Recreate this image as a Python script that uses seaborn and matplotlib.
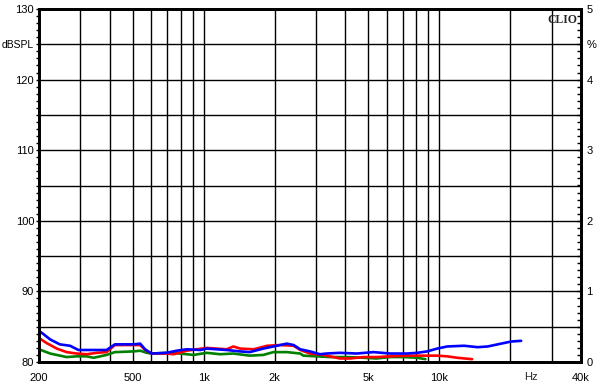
import numpy as np
import pandas as pd
import matplotlib
matplotlib.use("Agg")
import matplotlib.pyplot as plt
import matplotlib.ticker as mticker
import seaborn as sns

# ---- data ----
blue_freq = [200, 208, 223, 245, 271, 294, 387, 420, 503, 538, 564, 601, 696, 769, 848, 968,
             1030, 1253, 1429, 1570, 1791, 1978, 2255, 2410, 2571, 2828, 3117, 3326, 3788,
             4460, 5257, 6198, 7308, 8061, 8890, 9806, 10815, 12750, 14570, 16070, 17720,
             20200, 22280]
blue_db = [84.4, 84.0, 83.2, 82.5, 82.3, 81.7, 81.7, 82.5, 82.5, 82.6, 81.8, 81.2, 81.3, 81.6,
           81.8, 81.7, 81.9, 81.7, 81.5, 81.4, 81.9, 82.2, 82.6, 82.4, 81.8, 81.5, 81.1, 81.2,
           81.3, 81.2, 81.4, 81.2, 81.2, 81.3, 81.5, 81.9, 82.2, 82.3, 82.1, 82.2, 82.5, 82.9,
           83.0]

red_freq = [200, 215, 238, 262, 289, 319, 352, 387, 420, 503, 538, 564, 601, 696, 744, 848,
            1030, 1253, 1336, 1429, 1630, 1861, 2121, 2410, 2571, 2828, 3223, 3788, 4180, 4760,
            5420, 6198, 7308, 8600, 9806, 10815, 11920, 13800]
red_db = [83.4, 82.7, 81.9, 81.4, 81.2, 81.1, 81.3, 81.4, 82.4, 82.4, 82.4, 81.7, 81.2, 81.2,
          81.1, 81.6, 82.0, 81.8, 82.2, 81.9, 81.8, 82.3, 82.4, 82.3, 81.7, 81.2, 81.0, 80.5,
          80.5, 80.7, 80.7, 80.8, 80.9, 80.9, 80.9, 80.8, 80.6, 80.4]

green_freq = [200, 223, 262, 289, 319, 341, 387, 420, 503, 538, 573, 601, 696, 793, 906, 1030,
              1175, 1336, 1570, 1791, 1978, 2255, 2571, 2650, 3020, 3440, 4045, 4760, 5420,
              6198, 7080, 8061, 8740]
green_db = [81.8, 81.2, 80.7, 80.8, 80.8, 80.6, 81.0, 81.4, 81.5, 81.6, 81.3, 81.2, 81.3, 81.2,
            81.0, 81.3, 81.1, 81.2, 80.9, 81.0, 81.4, 81.4, 81.2, 80.9, 80.8, 80.7, 80.7, 80.6,
            80.5, 80.7, 80.7, 80.6, 80.4]

x_label_ticks = [200, 500, 1000, 2000, 5000, 10000, 40000]
x_label_text = ["200", "500", "1k", "2k", "5k", "10k", "40k"]
x_grid = [300, 400, 500, 600, 700, 800, 900, 1000, 2000, 3000, 4000, 5000, 6000, 7000,
          8000, 9000, 10000, 20000, 30000]
y_ticks = [80, 85, 90, 95, 100, 105, 110, 115, 120, 125, 130]
y_labels = ["80", "", "90", "", "100", "", "110", "", "120", "dBSPL", "130"]
r_ticks = [0, 0.5, 1, 1.5, 2, 2.5, 3, 3.5, 4, 4.5, 5]
r_labels = ["0", "", "1", "", "2", "", "3", "", "4", "%", "5"]

df = pd.concat([
    pd.DataFrame({"freq": green_freq, "db": green_db, "series": "green"}),
    pd.DataFrame({"freq": red_freq, "db": red_db, "series": "red"}),
    pd.DataFrame({"freq": blue_freq, "db": blue_db, "series": "blue"}),
], ignore_index=True)

sns.set_style("white")
plt.rcParams["font.family"] = ["Liberation Sans", "DejaVu Sans"]

fig = plt.figure(figsize=(5.98, 3.86), dpi=100)
ax = fig.add_axes([39 / 598, 24 / 386, 542 / 598, 353 / 386])

sns.lineplot(data=df, x="freq", y="db", hue="series",
             hue_order=["green", "red", "blue"],
             palette={"green": "#008000", "red": "#ff0000", "blue": "#0000ff"},
             linewidth=1.9, legend=False, ax=ax, sort=False, estimator=None, zorder=5)

ax.set_xscale("log")
ax.set_xlim(200, 40000)
ax.set_ylim(80, 130)
ax.set_xlabel("")
ax.set_ylabel("")

ax.xaxis.remove_overlapping_locs = False
ax.xaxis.set_major_locator(mticker.FixedLocator(x_label_ticks))
ax.xaxis.set_major_formatter(mticker.FixedFormatter(x_label_text))
ax.xaxis.set_minor_locator(mticker.FixedLocator(x_grid))
ax.xaxis.set_minor_formatter(mticker.NullFormatter())
ax.tick_params(axis="x", which="both", length=0, pad=8, labelsize=8, colors="black")
ax.xaxis.grid(True, which="minor", color="black", linewidth=1.0)
ax.xaxis.grid(False, which="major")

ax.yaxis.set_major_locator(mticker.FixedLocator(y_ticks))
ax.yaxis.set_major_formatter(mticker.FixedFormatter(y_labels))
ax.yaxis.set_minor_locator(mticker.MultipleLocator(1))
ax.tick_params(axis="y", which="both", direction="out", length=2, width=1,
               pad=1.5, labelsize=8, colors="black", left=True)
ax.yaxis.grid(True, which="major", color="black", linewidth=1.0)
for lbl in ax.get_yticklabels():
    if lbl.get_text() == "dBSPL":
        lbl.set_fontsize(7.5)

ax.text(24500, -0.0425, "Hz", transform=ax.get_xaxis_transform(),
        ha="center", va="center", fontsize=8)

for s in ax.spines.values():
    s.set_visible(True)
    s.set_color("black")
    s.set_linewidth(2)

ax2 = ax.twinx()
ax2.set_ylim(0, 5)
ax2.yaxis.set_major_locator(mticker.FixedLocator(r_ticks))
ax2.yaxis.set_major_formatter(mticker.FixedFormatter(r_labels))
ax2.yaxis.set_minor_locator(mticker.MultipleLocator(0.1))
ax2.tick_params(axis="y", which="both", direction="in", length=3, width=1,
                pad=4, labelsize=8, colors="black", right=True)
ax2.grid(False)
for s in ax2.spines.values():
    s.set_visible(True)
    s.set_color("black")
    s.set_linewidth(2)

ax.text(0.993, 0.985, "CLIO", transform=ax.transAxes, ha="right", va="top",
        fontsize=8.5, fontweight="bold", family=["Liberation Serif", "DejaVu Serif"])

fig.savefig("out.png", dpi=100, facecolor="white")
